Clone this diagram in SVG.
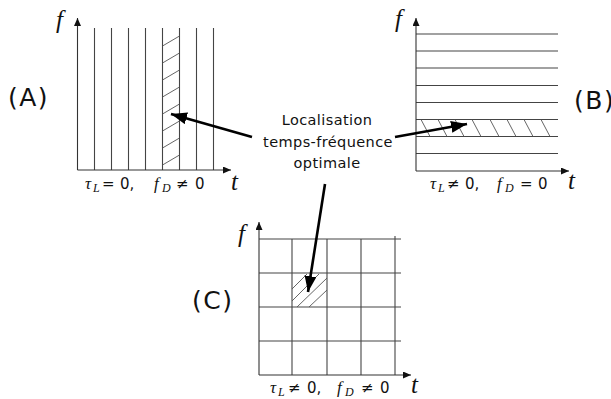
<svg xmlns="http://www.w3.org/2000/svg" width="611" height="399" viewBox="0 0 611 399">
<style>
.g{stroke:#444;stroke-width:1.1;fill:none}
.h{stroke:#555;stroke-width:0.9;fill:none}
.ax{stroke:#333;stroke-width:1.1;fill:none}
.co{stroke:#000;stroke-width:2.6;fill:none}
.lab{font-family:"DejaVu Sans",sans-serif;font-size:25px;fill:#111;letter-spacing:1.5px}
.it{font-family:"Liberation Serif",serif;font-style:italic;fill:#111}
.big{font-size:25px}
.sn{font-family:"DejaVu Sans",sans-serif;font-size:15px;fill:#111}
.ser{font-family:"Liberation Serif",serif;font-style:italic;font-size:17px;fill:#111}
.sub{font-family:"Liberation Serif",serif;font-style:italic;font-size:12px;fill:#111}
.ctr{font-family:"DejaVu Sans",sans-serif;font-size:14.5px;fill:#111;text-anchor:middle;letter-spacing:0.4px}
</style>
<defs>
<marker id="axh" markerUnits="userSpaceOnUse" markerWidth="9" markerHeight="8" refX="8" refY="3.5" orient="auto"><path d="M0,0 L8,3.5 L0,7 z" fill="#111"/></marker>
<marker id="arh" markerUnits="userSpaceOnUse" markerWidth="17" markerHeight="13" refX="16" refY="6" orient="auto"><path d="M0,0 L16,6 L0,12 z" fill="#000"/></marker>
</defs>

<g id="panelA">
<g class="g">
<line x1="94.5" y1="28" x2="94.5" y2="170"/>
<line x1="111.5" y1="28" x2="111.5" y2="170"/>
<line x1="128.5" y1="28" x2="128.5" y2="170"/>
<line x1="145.5" y1="28" x2="145.5" y2="170"/>
<line x1="162.5" y1="28" x2="162.5" y2="170"/>
<line x1="179.5" y1="28" x2="179.5" y2="170"/>
<line x1="196.5" y1="28" x2="196.5" y2="170"/>
<line x1="213.5" y1="28" x2="213.5" y2="170"/>
</g>
<g class="h">
<line x1="162.5" y1="46" x2="179.5" y2="36"/>
<line x1="162.5" y1="63" x2="179.5" y2="53"/>
<line x1="162.5" y1="80" x2="179.5" y2="70"/>
<line x1="162.5" y1="97" x2="179.5" y2="87"/>
<line x1="162.5" y1="114" x2="179.5" y2="104"/>
<line x1="162.5" y1="131" x2="179.5" y2="121"/>
<line x1="162.5" y1="148" x2="179.5" y2="138"/>
<line x1="162.5" y1="165" x2="179.5" y2="155"/>
</g>
<line class="ax" x1="77.5" y1="170" x2="77.5" y2="18" marker-end="url(#axh)"/>
<line class="ax" x1="77.5" y1="170" x2="231" y2="170" marker-end="url(#axh)"/>
<text class="it big" x="56" y="28">f</text>
<text class="it big" x="231" y="190">t</text>
<text class="lab" x="8" y="106">(A)</text>
<text y="189"><tspan class="ser" x="85">τ</tspan><tspan class="sub" x="93" y="192">L</tspan><tspan class="sn" x="102" y="189">=</tspan><tspan class="sn" x="120">0,</tspan><tspan class="ser" x="154">f</tspan><tspan class="sub" x="162" y="192">D</tspan><tspan class="sn" x="176" y="189">≠</tspan><tspan class="sn" x="195">0</tspan></text>
</g>

<g id="panelB">
<g class="g">
<line x1="416" y1="34" x2="558" y2="34"/>
<line x1="416" y1="51" x2="558" y2="51"/>
<line x1="416" y1="68" x2="558" y2="68"/>
<line x1="416" y1="85.5" x2="558" y2="85.5"/>
<line x1="416" y1="102.5" x2="558" y2="102.5"/>
<line x1="416" y1="119.5" x2="558" y2="119.5"/>
<line x1="416" y1="136.5" x2="558" y2="136.5"/>
<line x1="416" y1="153.5" x2="558" y2="153.5"/>
</g>
<g class="h">
<line x1="421" y1="119.5" x2="430" y2="136.5"/>
<line x1="438" y1="119.5" x2="447" y2="136.5"/>
<line x1="455" y1="119.5" x2="464" y2="136.5"/>
<line x1="472" y1="119.5" x2="481" y2="136.5"/>
<line x1="490" y1="119.5" x2="499" y2="136.5"/>
<line x1="507" y1="119.5" x2="516" y2="136.5"/>
<line x1="524" y1="119.5" x2="533" y2="136.5"/>
<line x1="541" y1="119.5" x2="550" y2="136.5"/>
</g>
<line class="ax" x1="416" y1="171" x2="416" y2="18" marker-end="url(#axh)"/>
<line class="ax" x1="416" y1="171" x2="569" y2="171" marker-end="url(#axh)"/>
<text class="it big" x="395" y="27">f</text>
<text class="it big" x="568" y="189">t</text>
<text class="lab" x="574" y="109">(B)</text>
<text y="189"><tspan class="ser" x="430">τ</tspan><tspan class="sub" x="438" y="192">L</tspan><tspan class="sn" x="447" y="189">≠</tspan><tspan class="sn" x="465">0,</tspan><tspan class="ser" x="497">f</tspan><tspan class="sub" x="505" y="192">D</tspan><tspan class="sn" x="520" y="189">=</tspan><tspan class="sn" x="538">0</tspan></text>
</g>

<g id="panelC">
<g class="g">
<line x1="292" y1="239" x2="292" y2="375"/>
<line x1="327" y1="239" x2="327" y2="375"/>
<line x1="361" y1="239" x2="361" y2="375"/>
<line x1="395" y1="236" x2="395" y2="375"/>
<line x1="259" y1="239" x2="401" y2="239"/>
<line x1="259" y1="273" x2="401" y2="273"/>
<line x1="259" y1="307" x2="401" y2="307"/>
<line x1="259" y1="341" x2="401" y2="341"/>
</g>
<g class="h">
<line x1="292" y1="289" x2="307" y2="274"/>
<line x1="292" y1="301" x2="319" y2="274"/>
<line x1="297" y1="307" x2="327" y2="278"/>
<line x1="309" y1="307" x2="327" y2="290"/>
</g>
<line class="ax" x1="259" y1="375" x2="259" y2="222" marker-end="url(#axh)"/>
<line class="ax" x1="259" y1="375" x2="411" y2="375" marker-end="url(#axh)"/>
<text class="it big" x="238" y="242">f</text>
<text class="it big" x="411" y="393">t</text>
<text class="lab" x="192" y="309">(C)</text>
<text y="393"><tspan class="ser" x="270">τ</tspan><tspan class="sub" x="278" y="396">L</tspan><tspan class="sn" x="288" y="393">≠</tspan><tspan class="sn" x="307">0,</tspan><tspan class="ser" x="337">f</tspan><tspan class="sub" x="345" y="396">D</tspan><tspan class="sn" x="361" y="393">≠</tspan><tspan class="sn" x="380">0</tspan></text>
</g>

<g id="label">
<text class="ctr" x="327" y="125">Localisation</text>
<text class="ctr" x="328" y="147">temps-fréquence</text>
<text class="ctr" x="327" y="168">optimale</text>
</g>

<g id="connectors">
<line class="co" x1="252" y1="137" x2="171" y2="114" marker-end="url(#arh)"/>
<line class="co" x1="395" y1="137" x2="467" y2="124" marker-end="url(#arh)"/>
<line class="co" x1="325" y1="184" x2="308" y2="292" marker-end="url(#arh)"/>
</g>
</svg>
